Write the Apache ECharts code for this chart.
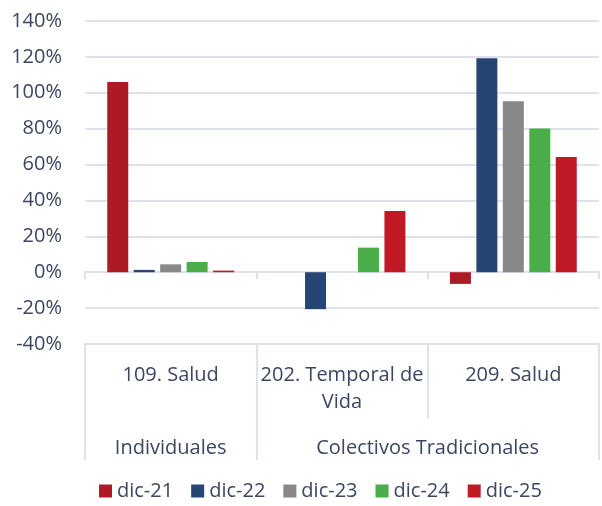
<!DOCTYPE html>
<html>
<head>
<meta charset="utf-8">
<script src="https://cdn.jsdelivr.net/npm/echarts@6/dist/echarts.min.js"></script>
<style>
  html, body { margin: 0; padding: 0; background: #fff; }
  #chart { width: 602px; height: 506px; }
</style>
</head>
<body>
<div id="chart"></div>
<script>
// productos (primer nivel) y grupos (segundo nivel)
var productos = ['109. Salud', '202. Temporal de\nVida', '209. Salud'];
// segundo nivel sobre 7 marcas (medias categorias), etiquetas en los centros
var grupos = ['', 'Individuales', '', '', 'Colectivos Tradicionales', '', ''];
var cortesGrupo = [0, 2, 6];

var periodos = ['dic-21', 'dic-22', 'dic-23', 'dic-24', 'dic-25'];
var colores = ['#AD1A26', '#264573', '#888888', '#4AAD4A', '#BE1925'];

// variacion en %
var dic21 = [106, null, -6.5];
var dic22 = [1.3, -20.6, 119.3];
var dic23 = [4.4, null, 95.3];
var dic24 = [5.7, 13.7, 80.1];
var dic25 = [0.9, 34.1, 64.2];
var valores = [dic21, dic22, dic23, dic24, dic25];

var textColor = '#3B4663';
var lineColor = '#DFE1EE';
var fuente = 'Open Sans';

var chart = echarts.init(document.getElementById('chart'));

var series = periodos.map(function (p, i) {
    return {
        name: p,
        type: 'bar',
        xAxisIndex: 0,
        barWidth: 21,
        barGap: '26%',
        itemStyle: { color: colores[i] },
        data: valores[i]
    };
});

chart.setOption({
    animation: false,
    textStyle: { fontFamily: fuente },
    grid: { left: 85, right: 2, top: 21, bottom: 162 },
    legend: {
        data: periodos,
        left: 94,
        top: 476,
        icon: 'rect',
        itemWidth: 13,
        itemHeight: 13,
        itemGap: 18,
        textStyle: { color: textColor, fontSize: 20, fontFamily: fuente }
    },
    xAxis: [
        {
            type: 'category',
            position: 'bottom',
            data: productos,
            axisLine: { onZero: false, lineStyle: { color: lineColor, width: 2 } },
            axisTick: { show: true, interval: 0, length: 74, lineStyle: { color: lineColor, width: 2 } },
            axisLabel: {
                interval: 0, margin: 18, color: textColor, fontSize: 20,
                lineHeight: 27, fontFamily: fuente
            }
        },
        {
            type: 'category',
            position: 'bottom',
            boundaryGap: false,
            data: grupos,
            axisLine: { show: false, onZero: false },
            axisTick: {
                show: true,
                length: 116,
                interval: function (idx) { return cortesGrupo.indexOf(idx) >= 0; },
                lineStyle: { color: lineColor, width: 2 }
            },
            axisLabel: {
                interval: 0, margin: 91, color: textColor, fontSize: 20,
                lineHeight: 27, fontFamily: fuente
            }
        },
        {
            type: 'category',
            position: 'bottom',
            data: productos,
            axisLine: { show: true, onZero: true, lineStyle: { color: lineColor, width: 2 } },
            axisTick: { show: true, interval: 0, length: 7, lineStyle: { color: lineColor, width: 2 } },
            axisLabel: { show: false }
        }
    ],
    yAxis: {
        type: 'value',
        min: -40,
        max: 140,
        interval: 20,
        axisLine: { show: false },
        axisTick: { show: false },
        splitLine: { lineStyle: { color: lineColor, width: 2 } },
        axisLabel: {
            formatter: '{value}%', margin: 23, color: textColor,
            fontSize: 20, fontFamily: fuente
        }
    },
    series: series
});
</script>
</body>
</html>
